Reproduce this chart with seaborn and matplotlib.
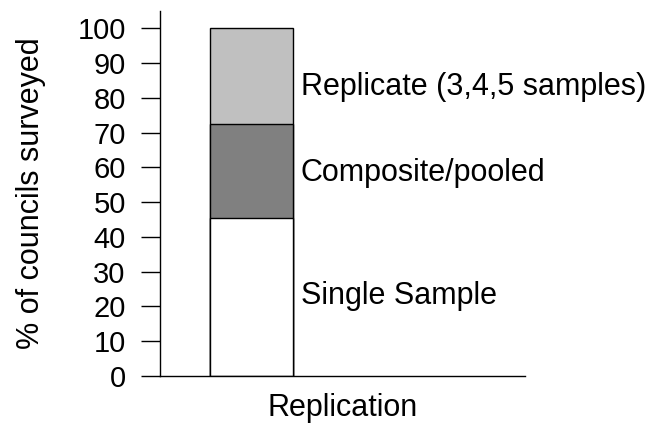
import matplotlib
matplotlib.use("Agg")
import matplotlib.pyplot as plt
import numpy as np
import pandas as pd
import seaborn as sns

# data
category = "Replication"
segments = ["Single Sample", "Composite/pooled", "Replicate (3,4,5 samples)"]
percent = [45.5, 27.0, 27.5]
colours = ["#FFFFFF", "#808080", "#C0C0C0"]
y_ticks = [0, 10, 20, 30, 40, 50, 60, 70, 80, 90, 100]

# where the segment names sit (y in data units), as in the original layout
label_y = [23.0, 58.5, 83.2]

sns.set_theme(style="ticks")
plt.rcParams["font.family"] = ["Liberation Sans", "DejaVu Sans"]
plt.rcParams.update({
    "text.color": "black",
    "axes.labelcolor": "black",
    "xtick.color": "black",
    "ytick.color": "black",
})

tops = np.cumsum(percent)

fig = plt.figure(figsize=(6.53, 4.41), dpi=100)
ax = fig.add_axes([0.245, 0.1474, 0.559, 0.8276])

# draw tallest stack first so the lower segments sit on top of it
for name, top, colour in reversed(list(zip(segments, tops, colours))):
    frame = pd.DataFrame({"group": [category], "value": [top]})
    sns.barplot(
        data=frame, x="group", y="value", color=colour, saturation=1,
        edgecolor="black", linewidth=1.0, width=0.455, errorbar=None, ax=ax,
    )

for name, ypos in zip(segments, label_y):
    ax.text(0.27, ypos, name, fontsize=22, va="center", ha="left", clip_on=False)

ax.set_xlim(-0.5, 1.5)
ax.set_ylim(0, 105)
ax.set_yticks(y_ticks)
ax.set_xticks([])
ax.tick_params(axis="y", labelsize=21, length=13.7, width=1.0, pad=11, color="black")
ax.set_xlabel(category, fontsize=22, labelpad=12)
ax.set_ylabel("% of councils surveyed", fontsize=22)
ax.yaxis.set_label_coords(-0.312, 0.5)
sns.despine(ax=ax)
for side in ("left", "bottom"):
    ax.spines[side].set_linewidth(1.0)
    ax.spines[side].set_color("black")

fig.savefig("out.png", dpi=100)
